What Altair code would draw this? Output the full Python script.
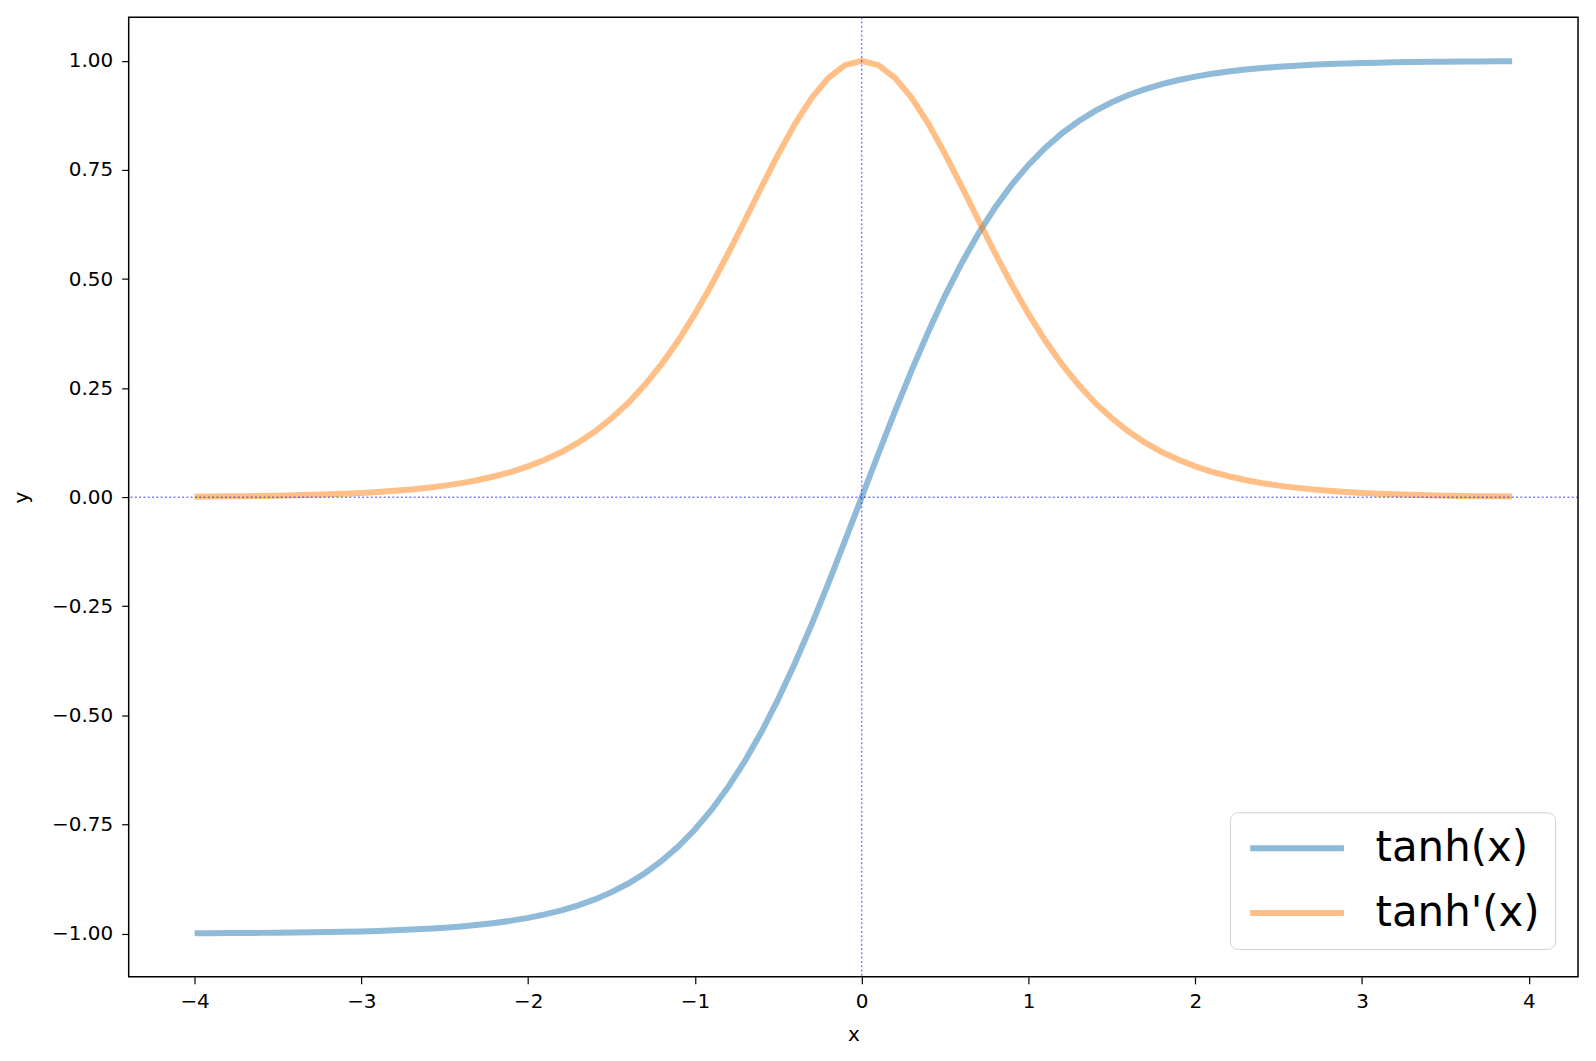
import altair as alt
import pandas as pd

x_vals = [-4.0, -3.9, -3.8, -3.7, -3.6, -3.5, -3.4, -3.3, -3.2, -3.1,
          -3.0, -2.9, -2.8, -2.7, -2.6, -2.5, -2.4, -2.3, -2.2, -2.1,
          -2.0, -1.9, -1.8, -1.7, -1.6, -1.5, -1.4, -1.3, -1.2, -1.1,
          -1.0, -0.9, -0.8, -0.7, -0.6, -0.5, -0.4, -0.3, -0.2, -0.1,
          0.0, 0.1, 0.2, 0.3, 0.4, 0.5, 0.6, 0.7, 0.8, 0.9,
          1.0, 1.1, 1.2, 1.3, 1.4, 1.5, 1.6, 1.7, 1.8, 1.9,
          2.0, 2.1, 2.2, 2.3, 2.4, 2.5, 2.6, 2.7, 2.8, 2.9,
          3.0, 3.1, 3.2, 3.3, 3.4, 3.5, 3.6, 3.7, 3.8, 3.9]

tanh_pos = [0.0, 0.0997, 0.1974, 0.2913, 0.3799, 0.4621, 0.5370, 0.6044, 0.6640, 0.7163,
            0.7616, 0.8005, 0.8337, 0.8617, 0.8854, 0.9051, 0.9217, 0.9354, 0.9468, 0.9562,
            0.9640, 0.9705, 0.9757, 0.9801, 0.9837, 0.9866, 0.9890, 0.9910, 0.9926, 0.9940,
            0.9951, 0.9959, 0.9967, 0.9973, 0.9978, 0.9982, 0.9985, 0.9988, 0.9990, 0.9992,
            0.9993]
dtanh_pos = [1.0, 0.9901, 0.9610, 0.9151, 0.8556, 0.7864, 0.7116, 0.6347, 0.5591, 0.4869,
             0.4200, 0.3592, 0.3049, 0.2575, 0.2161, 0.1808, 0.1505, 0.1250, 0.1036, 0.0857,
             0.0707, 0.0581, 0.0480, 0.0394, 0.0323, 0.0266, 0.0219, 0.0179, 0.0147, 0.0121,
             0.0099, 0.0081, 0.0066, 0.0054, 0.0045, 0.0036, 0.0030, 0.0024, 0.0020, 0.0016,
             0.0013]

# values read at x = -4.0 ... 3.9 (negative side mirrors the positive side)
tanh_vals = [-v for v in reversed(tanh_pos[1:])] + tanh_pos[:-1]
dtanh_vals = list(reversed(dtanh_pos[1:])) + dtanh_pos[:-1]

series_names = ["tanh(x)", "tanh'(x)"]
series_colors = ["#1f77b4", "#ff7f0e"]

x_ticks = [-4, -3, -2, -1, 0, 1, 2, 3, 4]
y_ticks = [-1.0, -0.75, -0.5, -0.25, 0.0, 0.25, 0.5, 0.75, 1.0]

rows = []
for i, xv in enumerate(x_vals):
    rows.append({"x": xv, "y": tanh_vals[i], "series": series_names[0], "o": 0})
for i, xv in enumerate(x_vals):
    rows.append({"x": xv, "y": dtanh_vals[i], "series": series_names[1], "o": 1})
df = pd.DataFrame(rows)

W, H = 1453, 962
FONT = "DejaVu Sans"

xscale = alt.Scale(domain=[-4.395, 4.295], nice=False, zero=False)
yscale = alt.Scale(domain=[-1.0993, 1.0999], nice=False, zero=False)

xaxis = alt.Axis(values=x_ticks, title="x", grid=False, domain=False, format=".0f",
                 tickColor="black", tickSize=7, tickWidth=1.2,
                 labelFont=FONT, labelFontSize=20, labelColor="black",
                 labelPadding=8, labelExpr="replace(datum.label, '-', '\u2212')",
                 titleFont=FONT, titleFontSize=20, titleFontWeight="normal",
                 titleColor="black", titlePadding=13)
yaxis = alt.Axis(values=y_ticks, title="y", grid=False, domain=False, format=".2f",
                 tickColor="black", tickSize=7, tickWidth=1.2,
                 labelFont=FONT, labelFontSize=20, labelColor="black",
                 labelPadding=9, labelExpr="replace(datum.label, '-', '\u2212')",
                 titleFont=FONT, titleFontSize=20, titleFontWeight="normal",
                 titleColor="black", titlePadding=20)

lines = alt.Chart(df).mark_line(strokeWidth=6, strokeOpacity=0.5).encode(
    x=alt.X("x:Q", scale=xscale, axis=xaxis),
    y=alt.Y("y:Q", scale=yscale, axis=yaxis),
    color=alt.Color("series:N",
                    scale=alt.Scale(domain=series_names, range=series_colors),
                    legend=alt.Legend(orient="none", legendX=1104, legendY=797,
                                      title=None, symbolType="M-1,0H5",
                                      symbolSize=982, symbolStrokeWidth=6,
                                      symbolOpacity=0.5,
                                      labelFont=FONT, labelFontSize=42,
                                      labelColor="black", labelOffset=89,
                                      labelLimit=400,
                                      rowPadding=23, padding=15,
                                      fillColor="white", strokeColor="#d0d0d0",
                                      cornerRadius=8)),
    order="o:Q",
    detail="series:N",
)

zero_df = pd.DataFrame({"v": [0.0]})
vline = alt.Chart(zero_df).mark_rule(color="blue", opacity=0.5, strokeWidth=1.5,
                                     strokeDash=[2, 2.3]).encode(
    x=alt.X("v:Q", scale=xscale))
hline = alt.Chart(zero_df).mark_rule(color="blue", opacity=0.5, strokeWidth=1.5,
                                     strokeDash=[2, 2.3]).encode(
    y=alt.Y("v:Q", scale=yscale))

chart = alt.layer(lines, vline, hline).properties(
    width=W, height=H,
    autosize=alt.AutoSizeParams(type="none"),
    padding={"left": 121, "top": 8, "right": 10, "bottom": 70},
).configure_view(stroke="black", strokeWidth=1.5)

chart.save("out.html", embed_options={"renderer": "svg", "actions": False})
